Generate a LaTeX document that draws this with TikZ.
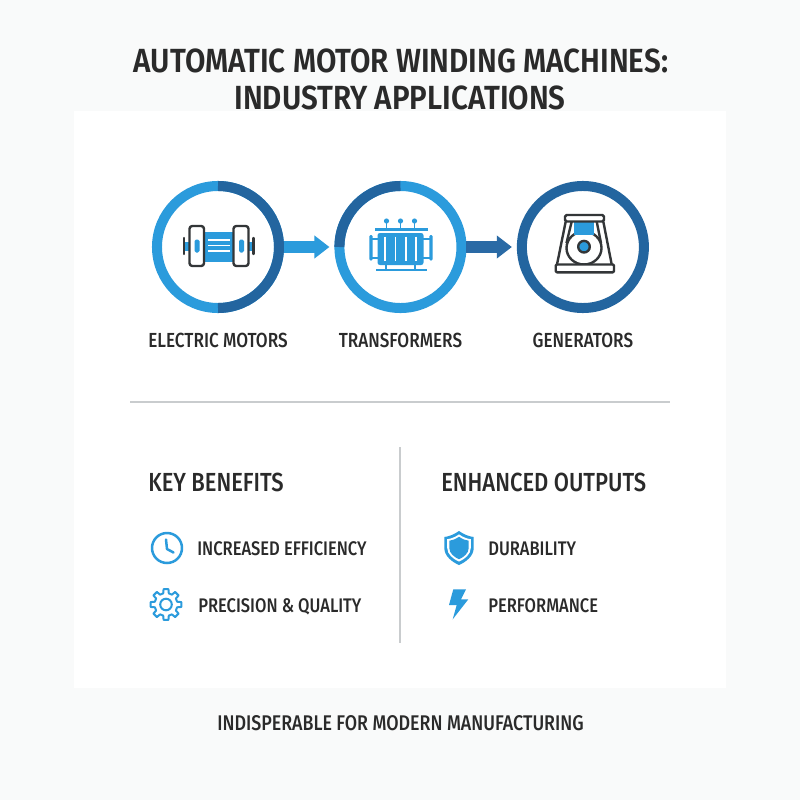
\documentclass[tikz,border=0pt]{standalone}
\usepackage{fontspec}
\setmainfont{Fira Sans}
\newfontfamily\labelfont[FakeStretch=.84]{Fira Sans Medium}
\newfontfamily\titlefont[FakeStretch=.885]{Fira Sans SemiBold}
\usetikzlibrary{arrows.meta, positioning, calc}
\definecolor{sheet_grey}{HTML}{F9FAFA}
\definecolor{ring_light}{HTML}{2B9BDC}
\definecolor{ring_dark}{HTML}{23659F}
\definecolor{arrow_dark}{HTML}{2A6AA5}
\definecolor{rule_grey}{HTML}{C9CCCE}
\definecolor{ink}{HTML}{2A2A2A}
\definecolor{icon_dark}{HTML}{333638}
\tikzset{
  panel/.style={fill=white,minimum width=16.3cm,minimum height=14.425cm,inner sep=0},
  ring/.style={circle,draw=ring_light,line width=.25cm,minimum size=3.05cm,inner sep=0},
  ringpart/.style={draw=ring_dark,line width=.25cm},
  flow/.style={line width=.275cm,-{Triangle[length=.375cm,width=.55cm]},shorten >=.125cm},
  title/.style={font=\titlefont\fontsize{23.8}{23.8}\selectfont,text=ink,inner sep=0},
  heading/.style={font=\labelfont\fontsize{18.6}{18.6}\selectfont,text=ink,inner sep=0,anchor=west},
  caption/.style={font=\labelfont\fontsize{14.5}{14.5}\selectfont,text=ink,inner sep=0,text height=.35cm,text depth=0pt},
  item/.style={caption,font=\labelfont\fontsize{14}{14}\selectfont,anchor=west},
  closingline/.style={caption,font=\labelfont\fontsize{15.1}{15.1}\selectfont},
  divider/.style={draw=rule_grey,line width=.05cm},
  iconline/.style={draw=icon_dark,line width=.06cm,line join=round},
  blueline/.style={draw=ring_light,line width=.0625cm,line cap=round,line join=round},
}
\begin{document}
\begin{tikzpicture}[x=.025cm,y=-.025cm]
	\fill[sheet_grey] (0,0) rectangle (800,800);
	\useasboundingbox (0,0) rectangle (800,800);
	\node[panel] (card) at (400,399.5) {};
	\node[title] (head1) at (401,61) {AUTOMATIC MOTOR WINDING MACHINES:};
	\node[title] (head2) at (400,98) {INDUSTRY APPLICATIONS};
	% the three rings
	\node[ring] (motors) at (218,247) {};
	\node[ring,right=1.26cm of motors] (transformers) {};
	\node[ring,draw=ring_dark,right=1.26cm of transformers] (generators) {};
	\draw[ringpart] ($(motors.center)+(0,-61)$) arc[start angle=-90,end angle=90,radius=61];
	\draw[ringpart] ($(transformers.center)+(0,-61)$) arc[start angle=-90,end angle=-180,radius=61];
	\draw[flow,ring_light] (motors) -- (transformers);
	\draw[flow,arrow_dark] (transformers) -- (generators);
	\node[caption,below=.5cm of motors] (motorstext) {ELECTRIC MOTORS};
	\node[caption,below=.5cm of transformers] (transformerstext) {TRANSFORMERS};
	\node[caption,below=.5cm of generators] (generatorstext) {GENERATORS};
	% motor icon
	\fill[ring_light] (203,232) rectangle (234,262);
	\fill[ring_light] (185,241.5) rectangle (190,250.5);
	\fill[ring_light] (248,241.5) rectangle (253,250.5);
	\foreach \y in {240,245.5,251} \draw[white,line width=.04cm] (208,\y) -- (229.5,\y);
	\draw[iconline,fill=white,rounded corners=.07cm] (189.5,226) rectangle (204,266);
	\draw[iconline,fill=white,rounded corners=.07cm] (233.5,226) rectangle (248.5,266);
	\fill[ring_light,rounded corners=.04cm] (194.5,239.5) rectangle (199.5,252.5);
	\fill[ring_light,rounded corners=.04cm] (239,239.5) rectangle (244,252.5);
	\draw[iconline,line cap=round] (184,238) -- (184,254);
	\draw[iconline,line cap=round] (253.5,238) -- (253.5,254);
	% transformer icon
	\fill[ring_light,rounded corners=.06cm] (377.5,233) rectangle (423.5,265);
	\foreach \x in {385,395.7,406,416} \draw[white,line width=.03cm] (\x,236.5) -- (\x,261);
	\fill[ring_light] (375,228) rectangle (427.5,231);
	\fill[ring_light] (375.5,268.5) rectangle (427,271);
	\foreach \x in {386.5,400.5,414.5} {
		\fill[ring_light] (\x,221) circle (2.6);
		\fill[ring_light] (\x-.7,221) rectangle (\x+.7,228);
	}
	\foreach \x in {386,414.5} \fill[ring_light] (\x-1,265) rectangle (\x+1,269);
	\fill[ring_light,rounded corners=.03cm] (369.3,235) rectangle (372.5,260.5);
	\fill[ring_light,rounded corners=.03cm] (429.3,235) rectangle (432.5,260.5);
	\foreach \y in {238,257} {
		\fill[ring_light] (372,\y) rectangle (378,\y+2);
		\fill[ring_light] (423,\y) rectangle (430,\y+2);
	}
	% generator icon
	\draw[iconline] (565.7,221.5) -- (557,264.5);
	\draw[iconline] (603.3,221.5) -- (611.7,264.5);
	\draw[iconline] (571.7,221.5) -- (566.5,243);
	\draw[iconline] (596.7,221.5) -- (601,243);
	\draw[iconline,fill=white] (584,248) ellipse [x radius=17.5,y radius=16.5];
	\fill[ring_light] (574,221.5) rectangle (593.5,235);
	\draw[iconline,fill=white,rounded corners=.04cm] (565,215) rectangle (604,221.5);
	\draw[iconline,fill=white,rounded corners=.03cm] (555.7,264.5) rectangle (614,272.3);
	\draw[iconline,fill=ring_light] (584,246.7) circle (5.8);
	\draw[divider] (130,402) -- (670,402);
	\draw[divider] (400,447) -- (400,643);
	\node[heading] (benefits) at (148,482) {KEY BENEFITS};
	\node[heading] (outputs) at (441,482) {ENHANCED OUTPUTS};
	% clock
	\draw[blueline] (167,548) circle (15);
	\draw[blueline] (166,539.5) -- (167,549) -- (173.5,552.5);
	% gear
	\begin{scope}[shift={(166,604.5)}]
		\draw[blueline,line width=.05cm] (-14:11.5) \foreach \a in {0,45,...,315} {
			-- (\a-14:11.5) -- (\a-9:15.5) -- (\a+9:15.5) -- (\a+14:11.5)
		} -- cycle;
		\draw[blueline,line width=.05cm] (0,0) circle (5.8);
	\end{scope}
	% shield
	\def\shieldpath{(0,-17) .. controls (-5,-13.5) and (-10,-11.5) .. (-14.7,-11) -- (-14.7,0) .. controls (-14.7,8) and (-7,14) .. (0,17) .. controls (7,14) and (14.7,8) .. (14.7,0) -- (14.7,-11) .. controls (10,-11.5) and (5,-13.5) .. (0,-17) -- cycle}
	\begin{scope}[shift={(459,548)}]
		\fill[ring_light] \shieldpath;
		\fill[white,scale=.8] \shieldpath;
		\fill[ring_light,scale=.66] \shieldpath;
	\end{scope}
	% bolt
	\fill[ring_light] (453.3,589.3) -- (466,589.3) -- (461,599.3) -- (468.3,599.3) -- (452.7,619.3) -- (456.7,605) -- (449,605) -- cycle;
	\node[item] (efficiency) at (197,548) {INCREASED EFFICIENCY};
	\node[item] (precision) at (198,605) {PRECISION \& QUALITY};
	\node[item] (durability) at (488,548) {DURABILITY};
	\node[item] (performance) at (488,605) {PERFORMANCE};
	\node[closingline] (closing) at (400.5,723) {INDISPERABLE FOR MODERN MANUFACTURING};
\end{tikzpicture}
\end{document}
